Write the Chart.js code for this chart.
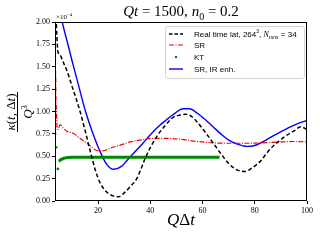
<!DOCTYPE html>
<html>
<head>
<meta charset="utf-8">
<script src="https://cdn.jsdelivr.net/npm/chart.js@4"></script>
<style>
  body { margin: 0; background: #fff; }
  #wrap { position: relative; width: 320px; height: 240px; overflow: hidden; }
  .lbl { position: absolute; font-family: "Liberation Serif", serif; color: #000; white-space: nowrap; }
  #legend { position: absolute; left: 165px; top: 26px; width: 138px; height: 51px;
    border: 1px solid #d4d4d4; border-radius: 3px; background: rgba(255,255,255,0.85);
    font-family: "Liberation Sans", sans-serif; font-size: 8px; }
  .row { position: absolute; left: 3px; height: 10px; display: flex; align-items: center; }
  .row span { margin-left: 11px; }
</style>
</head>
<body>
<div id="wrap">
  <canvas id="chart" width="320" height="240"></canvas>
  <div class="lbl" style="left:0;width:362px;top:3px;text-align:center;font-size:15px;"><i>Qt</i> = 1500, <i>n</i><sub style="font-size:10px">0</sub> = 0.2</div>
  <div class="lbl" style="left:56px;top:12px;font-size:7px;">×10<sup style="font-size:5px">−4</sup></div>
  <div class="lbl" style="left:0;width:362px;top:210px;text-align:center;font-size:17px;"><i>Q</i>Δ<i>t</i></div>
  <div class="lbl" style="left:-12px;top:104px;width:62px;height:16px;transform:rotate(-90deg);display:flex;align-items:center;justify-content:center;font-size:13px;">
    <div style="display:flex;flex-direction:column;align-items:center;">
      <div style="border-bottom:1px solid #000;padding:0 1px;line-height:13px;"><i>κ</i>(<i>t</i>, Δ<i>t</i>)</div>
      <div style="line-height:13px;"><i>Q</i><sup style="font-size:8px">3</sup></div>
    </div>
  </div>
  <div id="legend">
    <div class="row" style="top:2px;"><svg width="14" height="4"><line x1="0" y1="2" x2="14" y2="2" stroke="#000" stroke-width="1.5" stroke-dasharray="3.5,2"/></svg><span>Real time lat, 264<sup style="font-size:5px">3</sup>, <i style="font-family:'Liberation Serif'">N</i><sub style="font-size:5px"><i>runs</i></sub> = 34</span></div>
    <div class="row" style="top:13px;"><svg width="14" height="4"><line x1="0" y1="2" x2="14" y2="2" stroke="#e00" stroke-width="1.2" stroke-dasharray="5,1.5,1,1.5"/></svg><span>SR</span></div>
    <div class="row" style="top:25px;"><svg width="14" height="4"><circle cx="7" cy="2" r="1.3" fill="#080"/></svg><span>KT</span></div>
    <div class="row" style="top:37px;"><svg width="14" height="4"><line x1="0" y1="2" x2="14" y2="2" stroke="#00f" stroke-width="1.4"/></svg><span>SR, IR enh.</span></div>
  </div>
</div>
<script>
// Real time lattice, 264^3
const latX = [3.9, 4.2, 4.6, 5.5, 6.5, 8.0, 10.5, 13.1, 15.0, 16.9, 18.9, 20.8, 23.3, 25.5, 27.8, 30, 32.3, 34.8, 38.4, 42, 46.8, 49, 51.4, 53.5, 55.5, 58, 61, 64, 67, 70, 73, 76.3, 79, 82, 85, 88, 89.7, 92, 95.4, 97.5, 100];
const latY = [2.05, 1.85, 1.67, 1.63, 1.56, 1.46, 1.24, 1.0, 0.79, 0.57, 0.35, 0.2, 0.1, 0.06, 0.048, 0.09, 0.16, 0.25, 0.5, 0.7, 0.88, 0.94, 0.96, 0.97, 0.95, 0.88, 0.77, 0.65, 0.53, 0.42, 0.35, 0.33, 0.37, 0.44, 0.55, 0.64, 0.68, 0.73, 0.79, 0.83, 0.80];

// SR
const srX = [3.55, 3.65, 3.75, 3.85, 4.0, 4.3, 4.6, 5.4, 6.5, 8, 10.5, 13, 15.7, 18, 20.1, 22, 24.6, 28, 32.3, 36, 41, 46, 51.4, 58, 64, 70, 77, 83, 89.7, 95, 100];
const srY = [1.48, 1.3, 1.45, 1.15, 1.05, 0.82, 0.80, 0.85, 0.82, 0.78, 0.756, 0.70, 0.645, 0.59, 0.56, 0.56, 0.59, 0.62, 0.66, 0.68, 0.70, 0.70, 0.69, 0.665, 0.65, 0.645, 0.645, 0.65, 0.66, 0.665, 0.66];

// KT
const ktX = [3.5, 3.9, 4.6, 5.3, 6.0, 6.7, 7.5, 8.5, 10, 12, 15, 20, 30, 40, 50, 60, 66.5];
const ktY = [0.75, 0.60, 0.36, 0.45, 0.465, 0.475, 0.482, 0.486, 0.489, 0.49, 0.49, 0.49, 0.49, 0.49, 0.49, 0.49, 0.49];

// SR, IR enhanced
const irX = [5.9, 6.1, 8, 10, 12, 15.2, 18.2, 20.8, 23.3, 25.9, 29.1, 31, 33.5, 37, 40, 43, 46.3, 49, 52.5, 55, 58, 61, 64, 67, 70, 73, 77, 80, 83, 86, 89.7, 93, 96, 100];
const irY = [2.05, 2.02, 1.80, 1.57, 1.35, 1.0, 0.74, 0.55, 0.41, 0.354, 0.39, 0.45, 0.53, 0.64, 0.74, 0.83, 0.91, 0.97, 1.03, 1.03, 0.98, 0.91, 0.83, 0.75, 0.68, 0.64, 0.61, 0.62, 0.66, 0.71, 0.77, 0.82, 0.86, 0.90];

const xTicks = [20, 40, 60, 80, 100];
const yTicks = [0, 0.25, 0.5, 0.75, 1.0, 1.25, 1.5, 1.75, 2.0];

const pts = (xs, ys) => xs.map((x, i) => ({ x: x, y: ys[i] }));

const frameBox = {
  id: "frameBox",
  afterDraw(chart) {
    const a = chart.chartArea;
    const ctx = chart.ctx;
    ctx.save();
    ctx.strokeStyle = "#000";
    ctx.lineWidth = 1;
    ctx.strokeRect(a.left + 0.5, a.top + 0.5, a.right - a.left - 1, a.bottom - a.top - 1);
    ctx.restore();
  },
};

const tickFont = { family: "Liberation Serif", size: 8 };

new Chart(document.getElementById("chart"), {
  type: "line",
  data: {
    datasets: [
      {
        label: "Real time lat",
        data: pts(latX, latY),
        borderColor: "#000",
        borderWidth: 1.5,
        borderDash: [4, 2.5],
        pointRadius: 0,
        cubicInterpolationMode: "monotone",
      },
      {
        label: "SR",
        data: pts(srX, srY),
        borderColor: "#e00",
        borderWidth: 1.2,
        borderDash: [5, 1.5, 1, 1.5],
        pointRadius: 0,
        cubicInterpolationMode: "monotone",
      },
      {
        label: "KT",
        data: pts(ktX, ktY),
        borderColor: "#080",
        backgroundColor: "#080",
        borderWidth: 3,
        pointRadius: (c) => (c.raw && c.raw.x < 6 ? 1.4 : 0),
        pointBorderWidth: 0,
        cubicInterpolationMode: "monotone",
        segment: {
          borderColor: (c) => (c.p0.parsed.x < 5.2 ? "rgba(0,0,0,0)" : "#080"),
        },
      },
      {
        label: "SR, IR enh.",
        data: pts(irX, irY),
        borderColor: "#00f",
        borderWidth: 1.4,
        pointRadius: 0,
        cubicInterpolationMode: "monotone",
      },
    ],
  },
  options: {
    responsive: false,
    devicePixelRatio: 1,
    animation: false,
    layout: { padding: { top: 22, right: 13, left: 0, bottom: 0 } },
    plugins: { legend: { display: false }, tooltip: { enabled: false } },
    scales: {
      x: {
        type: "linear",
        min: 3.5,
        max: 100,
        afterBuildTicks: (s) => { s.ticks = xTicks.map((v) => ({ value: v })); },
        afterFit: (s) => { s.height = 39; },
        border: { display: false },
        grid: { drawOnChartArea: false, drawTicks: true, tickLength: 3, color: "#000" },
        ticks: { color: "#000", font: tickFont, padding: 2, maxRotation: 0 },
      },
      y: {
        type: "linear",
        min: 0,
        max: 2,
        afterBuildTicks: (s) => { s.ticks = yTicks.map((v) => ({ value: v })); },
        afterFit: (s) => { s.width = 55; },
        border: { display: false },
        grid: { drawOnChartArea: false, drawTicks: true, tickLength: 3, color: "#000" },
        ticks: { color: "#000", font: tickFont, padding: 2, callback: (v) => v.toFixed(2) },
      },
    },
  },
  plugins: [frameBox],
});
</script>
</body>
</html>
